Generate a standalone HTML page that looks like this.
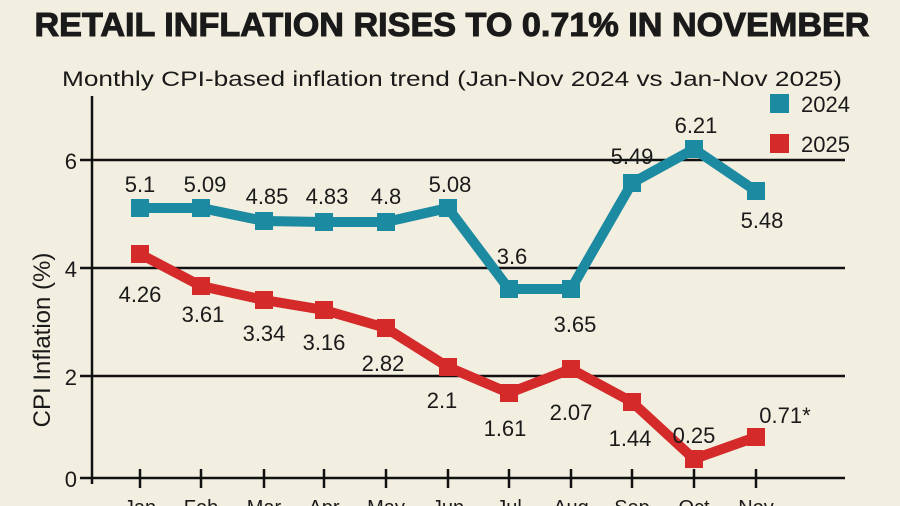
<!DOCTYPE html>
<html><head><meta charset="utf-8"><style>
body{margin:0;background:#f3efe0;}
svg{display:block}
text{font-family:"Liberation Sans",sans-serif;fill:#1a1a1a}
</style></head><body>
<svg width="900" height="506" viewBox="0 0 900 506">
<rect width="900" height="506" fill="#f3efe0"/>
<text x="452" y="36" text-anchor="middle" font-size="33" font-weight="bold" textLength="835" lengthAdjust="spacingAndGlyphs" stroke="#1a1a1a" stroke-width="1">RETAIL INFLATION RISES TO 0.71% IN NOVEMBER</text>
<text x="62" y="86" font-size="21" textLength="780" lengthAdjust="spacingAndGlyphs">Monthly CPI-based inflation trend (Jan-Nov 2024 vs Jan-Nov 2025)</text>
<g stroke="#111" stroke-width="2.5">
<line x1="92" y1="96" x2="92" y2="484"/>
<line x1="80" y1="478" x2="845" y2="478"/>
<line x1="80" y1="160" x2="845" y2="160"/>
<line x1="80" y1="268" x2="845" y2="268"/>
<line x1="80" y1="376" x2="845" y2="376"/>
<line x1="140" y1="469" x2="140" y2="488"/><line x1="201" y1="469" x2="201" y2="488"/><line x1="264" y1="469" x2="264" y2="488"/><line x1="324" y1="469" x2="324" y2="488"/><line x1="386" y1="469" x2="386" y2="488"/><line x1="448" y1="469" x2="448" y2="488"/><line x1="509" y1="469" x2="509" y2="488"/><line x1="571" y1="469" x2="571" y2="488"/><line x1="632" y1="469" x2="632" y2="488"/><line x1="694" y1="469" x2="694" y2="488"/><line x1="756" y1="469" x2="756" y2="488"/>
</g>
<g font-size="22" text-anchor="end">
<text x="77" y="169">6</text><text x="77" y="277">4</text><text x="77" y="385">2</text><text x="77" y="487">0</text>
</g>
<text transform="translate(50,340) rotate(-90)" font-size="24" text-anchor="middle">CPI Inflation (%)</text>
<g font-size="20" text-anchor="middle">
<text x="140" y="514">Jan</text><text x="201" y="514">Feb</text><text x="264" y="514">Mar</text><text x="324" y="514">Apr</text><text x="386" y="514">May</text><text x="448" y="514">Jun</text><text x="509" y="514">Jul</text><text x="571" y="514">Aug</text><text x="632" y="514">Sep</text><text x="694" y="514">Oct</text><text x="756" y="514">Nov</text>
</g>
<polyline fill="none" stroke="#1c8aa0" stroke-width="10" points="140,208 201,208 264,221 324,222 386,222 448,208 509,289 571,289 632,183 694,149 756,191"/>
<g fill="#1c8aa0">
<rect x="131" y="199" width="18" height="18"/><rect x="192" y="199" width="18" height="18"/><rect x="255" y="212" width="18" height="18"/><rect x="315" y="213" width="18" height="18"/><rect x="377" y="213" width="18" height="18"/><rect x="439" y="199" width="18" height="18"/><rect x="500" y="280" width="18" height="18"/><rect x="562" y="280" width="18" height="18"/><rect x="623" y="174" width="18" height="18"/><rect x="685" y="140" width="18" height="18"/><rect x="747" y="182" width="18" height="18"/>
</g>
<polyline fill="none" stroke="#d42a2a" stroke-width="10" points="140,254 201,286 264,300 324,310 386,328 448,367 509,393 571,369 632,402 694,459 756,437"/>
<g fill="#d42a2a">
<rect x="131" y="245" width="18" height="18"/><rect x="192" y="277" width="18" height="18"/><rect x="255" y="291" width="18" height="18"/><rect x="315" y="301" width="18" height="18"/><rect x="377" y="319" width="18" height="18"/><rect x="439" y="358" width="18" height="18"/><rect x="500" y="384" width="18" height="18"/><rect x="562" y="360" width="18" height="18"/><rect x="623" y="393" width="18" height="18"/><rect x="685" y="450" width="18" height="18"/><rect x="747" y="428" width="18" height="18"/>
</g>
<g font-size="22" text-anchor="middle">
<text x="140" y="192">5.1</text><text x="205" y="192">5.09</text><text x="267" y="204">4.85</text><text x="327" y="204">4.83</text><text x="386" y="204">4.8</text><text x="450" y="192">5.08</text><text x="512" y="264">3.6</text><text x="575" y="332">3.65</text><text x="632" y="164">5.49</text><text x="696" y="133">6.21</text><text x="762" y="228">5.48</text>
<text x="140" y="302">4.26</text><text x="203" y="322">3.61</text><text x="264" y="341">3.34</text><text x="324" y="350">3.16</text><text x="383" y="371">2.82</text><text x="442" y="408">2.1</text><text x="505" y="436">1.61</text><text x="571" y="420">2.07</text><text x="630" y="446">1.44</text><text x="694" y="443">0.25</text><text x="785" y="423">0.71*</text>
</g>
<rect x="770" y="94" width="19" height="19" fill="#1c8aa0"/>
<text x="801" y="112" font-size="22">2024</text>
<rect x="770" y="134" width="19" height="19" fill="#d42a2a"/>
<text x="801" y="152" font-size="22">2025</text>
</svg>
</body></html>
